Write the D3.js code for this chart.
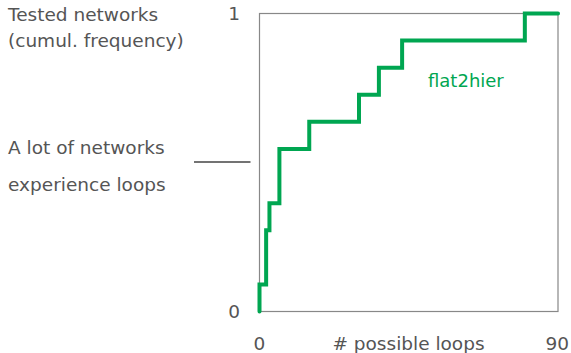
<!DOCTYPE html>
<html>
<head>
<meta charset="utf-8">
<script src="https://cdn.jsdelivr.net/npm/d3@7"></script>
<style>
  body { margin: 0; background: #fff; }
  text { font-family: "DejaVu Sans", sans-serif; fill: #555; }
</style>
</head>
<body>
<div class="chart"></div>
<script>
const width = 571,
    height = 353,
    margin = { top: 13.5, bottom: 41.5, left: 259.5, right: 13 },
    labelSize = 18.5;

// step positions (# possible loops) and cumulative count of tested networks
const loops = [0, 0, 2, 3, 6, 15, 30, 36, 43, 80, 90];
const counts = [0, 1, 3, 4, 6, 7, 8, 9, 10, 11, 11];
const totalNetworks = 11;
const xTicks = [0, 90];
const yTicks = [0, 1];

const data = loops.map((d, i) => ({ x: d, y: counts[i] / totalNetworks }));

const xScale = d3.scaleLinear()
    .domain([0, 90])
    .range([margin.left, width - margin.right]);

const yScale = d3.scaleLinear()
    .domain([0, 1])
    .range([height - margin.bottom, margin.top]);

const svg = d3.select(".chart")
    .append("svg")
    .attr("width", width)
    .attr("height", height);

// plot frame
svg.append("rect")
    .attr("x", xScale(0))
    .attr("y", yScale(1))
    .attr("width", xScale(90) - xScale(0))
    .attr("height", yScale(0) - yScale(1))
    .attr("fill", "none")
    .attr("stroke", "#888")
    .attr("stroke-width", 1.2);

// tick labels
svg.selectAll(".ytick")
    .data(yTicks)
    .join("text")
    .attr("class", "ytick")
    .attr("x", 240)
    .attr("y", d => yScale(d) + 6.5)
    .attr("text-anchor", "end")
    .attr("font-size", labelSize)
    .text(d => d);

svg.selectAll(".xtick")
    .data(xTicks)
    .join("text")
    .attr("class", "xtick")
    .attr("x", d => xScale(d))
    .attr("y", 350)
    .attr("text-anchor", (d, i) => i === 0 ? "middle" : "end")
    .attr("dx", (d, i) => i === 0 ? 0 : 11)
    .attr("font-size", labelSize)
    .text(d => d);

svg.append("text")
    .attr("x", 408.5)
    .attr("y", 350)
    .attr("text-anchor", "middle")
    .attr("font-size", labelSize)
    .text("# possible loops");

svg.append("text")
    .attr("x", 8)
    .attr("y", 21)
    .attr("font-size", labelSize)
    .text("Tested networks");

svg.append("text")
    .attr("x", 8)
    .attr("y", 47)
    .attr("font-size", labelSize)
    .text("(cumul. frequency)");

svg.append("text")
    .attr("x", 8)
    .attr("y", 154)
    .attr("font-size", labelSize)
    .text("A lot of networks");

svg.append("text")
    .attr("x", 8)
    .attr("y", 191)
    .attr("font-size", labelSize)
    .text("experience loops");

svg.append("line")
    .attr("x1", 194)
    .attr("x2", 250.5)
    .attr("y1", 162)
    .attr("y2", 162)
    .attr("stroke", "#444")
    .attr("stroke-width", 1.5);

// cumulative step line
const line = d3.line()
    .x(d => xScale(d.x))
    .y(d => yScale(d.y))
    .curve(d3.curveStepAfter);

svg.append("path")
    .datum(data)
    .attr("d", line)
    .attr("fill", "none")
    .attr("stroke", "#00a651")
    .attr("stroke-width", 4)
    .attr("stroke-linecap", "round")
    .attr("stroke-linejoin", "miter");

svg.append("text")
    .attr("x", 428)
    .attr("y", 87)
    .attr("font-size", 18)
    .style("fill", "#00a651")
    .text("flat2hier");
</script>
</body>
</html>
